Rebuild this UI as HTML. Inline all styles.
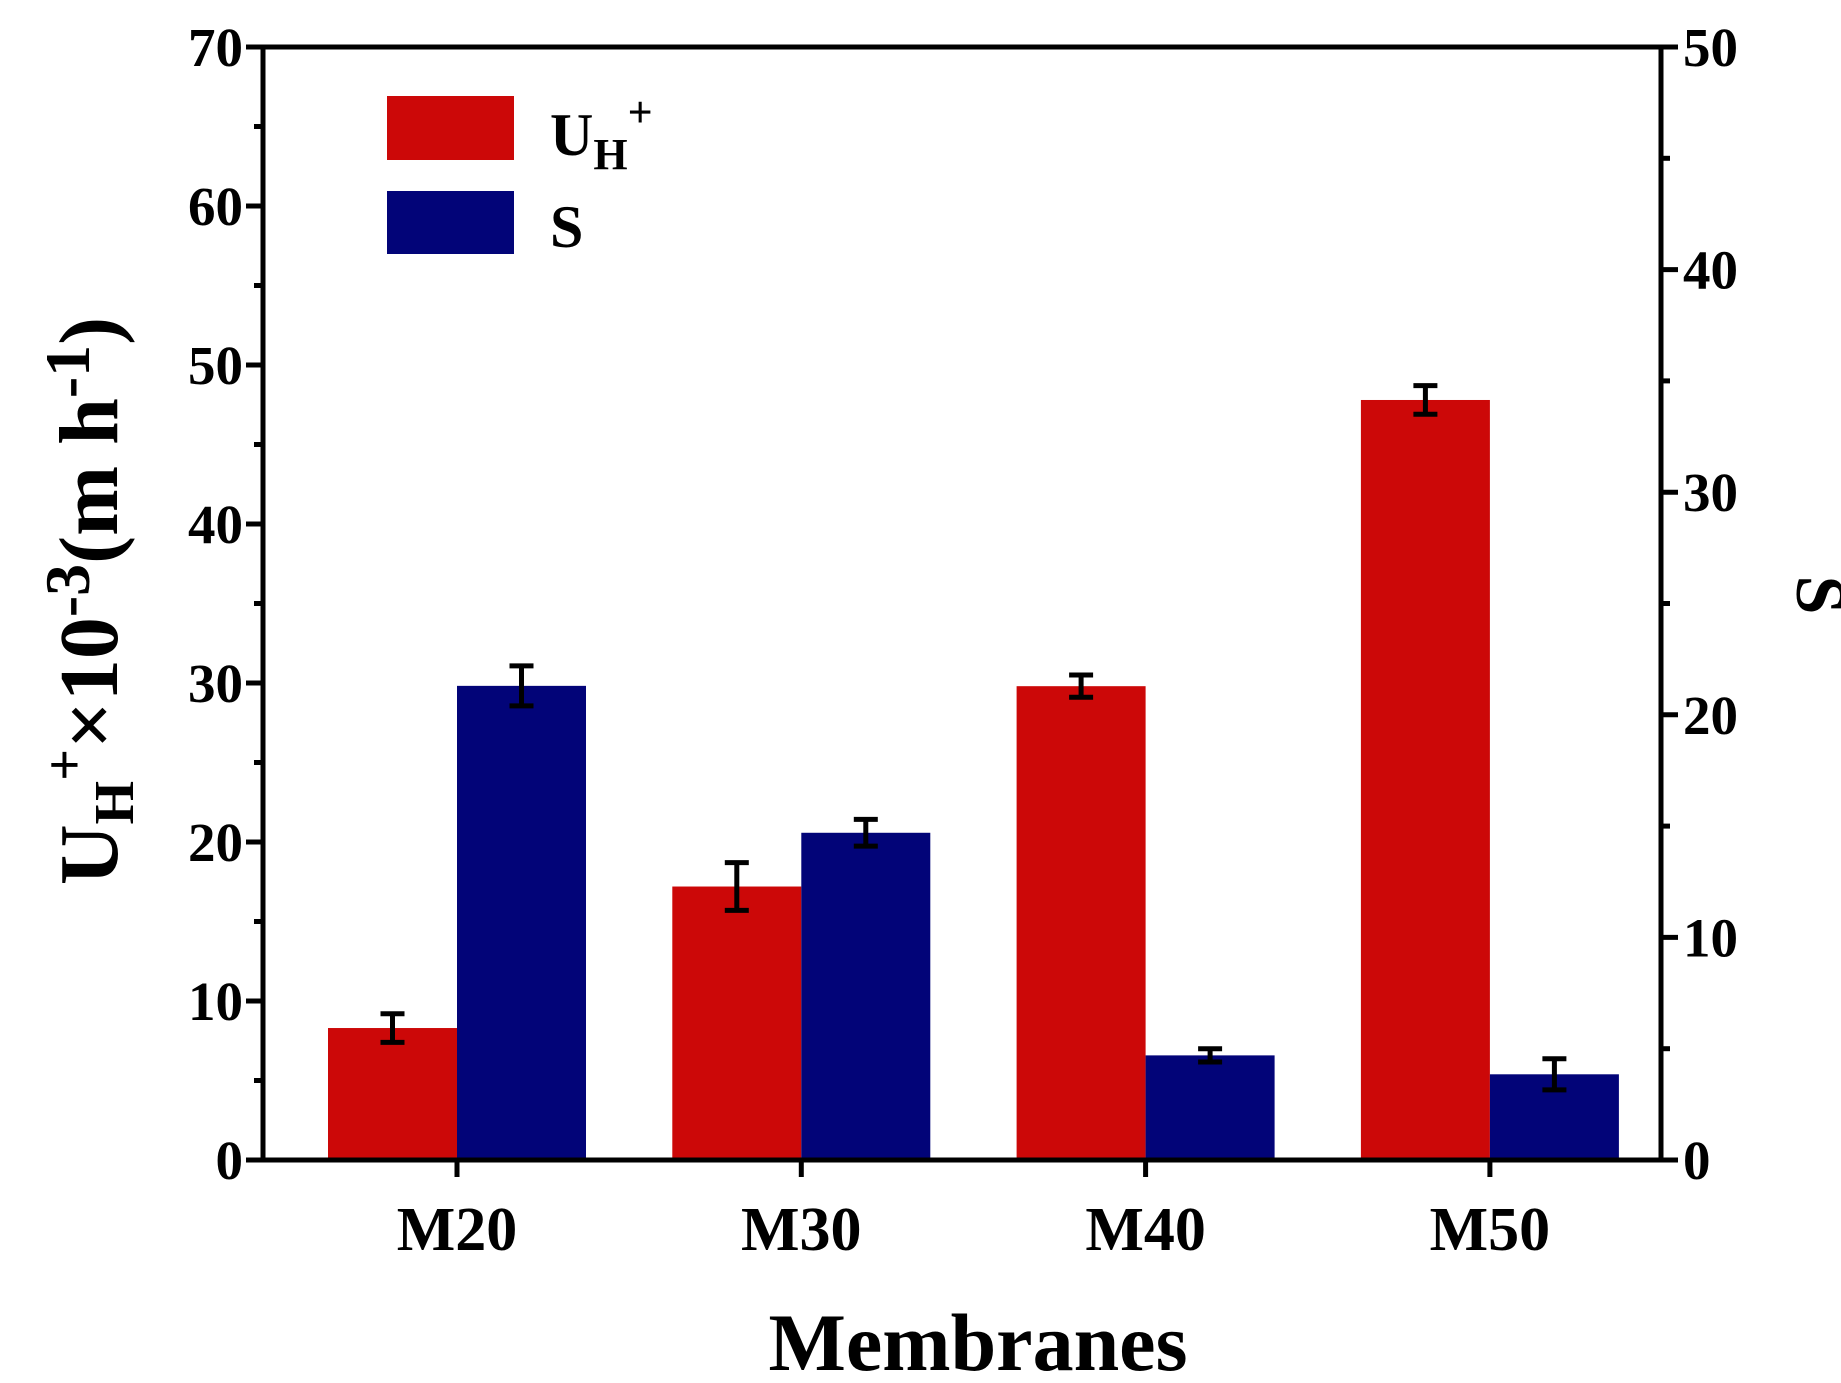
<!DOCTYPE html>
<html><head><meta charset="utf-8"><style>
html,body{margin:0;padding:0;background:#fff}
svg{display:block;font-family:"Liberation Serif",serif;font-weight:bold}
</style></head><body>
<svg id="chart" width="1841" height="1383" viewBox="0 0 1841 1383">
<g id="marks"></g>
<g id="axes"></g>
</svg>
<script>
const categories=["M20","M30","M40","M50"];
const uValues=[8.3,17.2,29.8,47.8];
const uErrors=[0.9,1.5,0.7,0.9];
const sValues=[21.3,14.7,4.7,3.85];
const sErrors=[0.9,0.6,0.3,0.7];
const leftTicks=[0,10,20,30,40,50,60,70];
const rightTicks=[0,10,20,30,40,50];

const NS="http://www.w3.org/2000/svg";
const L=263,R=1661,T=47,B=1160;
const yL=v=>B-(v/70)*(B-T);
const yR=v=>B-(v/50)*(B-T);
const xC=i=>457+i*344.3;
const BW=129;
const marks=document.getElementById('marks'),axes=document.getElementById('axes');
function el(tag,attrs,parent,text){const e=document.createElementNS(NS,tag);for(const k in attrs)e.setAttribute(k,attrs[k]);if(text!==undefined)e.textContent=text;parent.appendChild(e);return e;}
function errbar(x,top,bot,g){
  el('line',{x1:x,x2:x,y1:top,y2:bot,stroke:'#000','stroke-width':5},g);
  el('line',{x1:x-12,x2:x+12,y1:top,y2:top,stroke:'#000','stroke-width':5},g);
  el('line',{x1:x-12,x2:x+12,y1:bot,y2:bot,stroke:'#000','stroke-width':5},g);
}
categories.forEach((c,i)=>{
  const cx=xC(i);
  const r=el('rect',{x:cx-BW,y:yL(uValues[i]),width:BW,height:B-yL(uValues[i]),fill:'#cc0808'},marks);
  
  
  const b=el('rect',{x:cx,y:yR(sValues[i]),width:BW,height:B-yR(sValues[i]),fill:'#020478'},marks);
  
  
  const g1=el('g',{},marks);
  
  
  errbar(cx-BW/2,yL(uValues[i]+uErrors[i]),yL(uValues[i]-uErrors[i]),g1);
  const g2=el('g',{},marks);
  
  
  errbar(cx+BW/2,yR(sValues[i]+sErrors[i]),yR(sValues[i]-sErrors[i]),g2);
  const t=el('text',{x:cx,y:1250,'font-size':62,'text-anchor':'middle'},axes,c);
  
  
  el('line',{x1:cx,x2:cx,y1:B,y2:B+17,stroke:'#000','stroke-width':5},axes);
});
const frame=el('rect',{x:L,y:T,width:R-L,height:B-T,fill:'none',stroke:'#000','stroke-width':5},axes);


leftTicks.forEach((v,i)=>{
  el('line',{x1:L-17,x2:L,y1:yL(v),y2:yL(v),stroke:'#000','stroke-width':5},axes);
  if(i<leftTicks.length-1)el('line',{x1:L-9,x2:L,y1:yL(v+5),y2:yL(v+5),stroke:'#000','stroke-width':5},axes);
  const t=el('text',{x:L-20,y:yL(v)+19,'font-size':55,'text-anchor':'end'},axes,v);
  
  
});
rightTicks.forEach((v,i)=>{
  el('line',{x1:R,x2:R+17,y1:yR(v),y2:yR(v),stroke:'#000','stroke-width':5},axes);
  if(i<rightTicks.length-1)el('line',{x1:R,x2:R+9,y1:yR(v+5),y2:yR(v+5),stroke:'#000','stroke-width':5},axes);
  const t=el('text',{x:R+22,y:yR(v)+19,'font-size':55,'text-anchor':'start'},axes,v);
  
  
});
</script>
<svg style="position:absolute;left:0;top:0" width="1841" height="1383">
<g font-family="Liberation Serif, serif" font-weight="bold">
<text x="978" y="1370" font-size="82" text-anchor="middle">Membranes</text>
<text transform="translate(1797,595) rotate(90)" font-size="70" text-anchor="middle">S</text>
<text transform="translate(117,601) rotate(-90)" font-size="84" text-anchor="middle">U<tspan font-size="56" dy="16">H</tspan><tspan font-size="56" dy="-50">+</tspan><tspan dy="34">×10</tspan><tspan font-size="64" dy="-28">-3</tspan><tspan dy="28">(m h</tspan><tspan font-size="64" dy="-28">-1</tspan><tspan dy="28">)</tspan></text>
<rect x="387" y="96" width="127" height="64" fill="#cc0808"/>
<text x="550" y="155" font-size="60">U<tspan font-size="44" dy="14">H</tspan><tspan font-size="44" dy="-42">+</tspan></text>
<rect x="387" y="191" width="127" height="63" fill="#020478"/>
<text x="550" y="247" font-size="60">S</text>
</g>
</svg>
</body></html>
